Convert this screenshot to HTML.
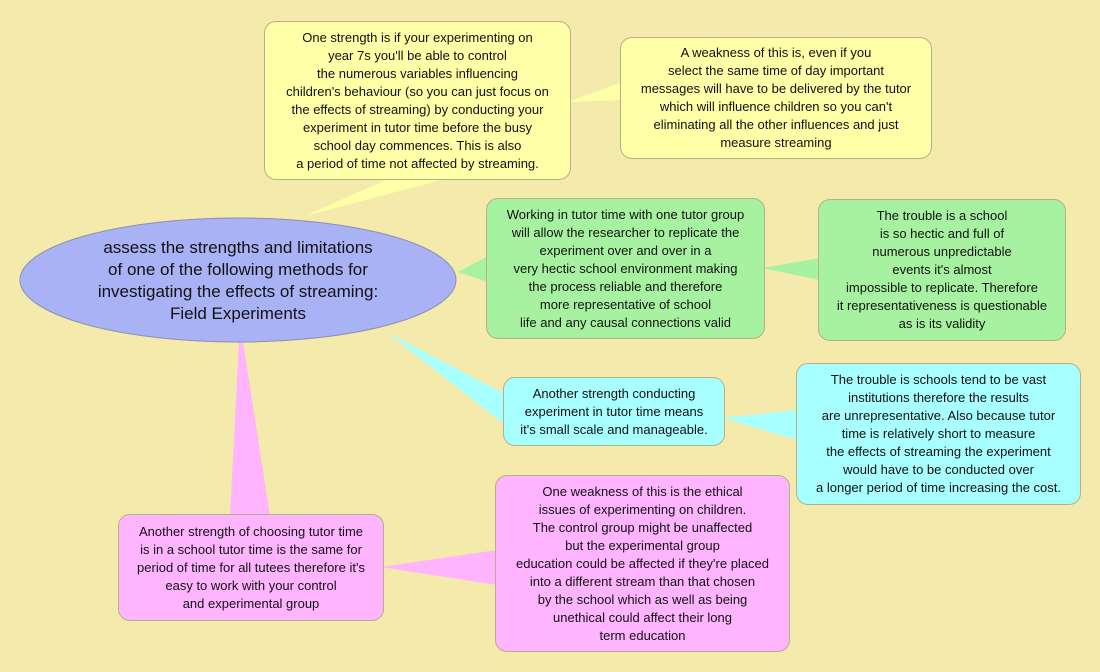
<!DOCTYPE html>
<html><head><meta charset="utf-8"><style>
body{margin:0;width:1100px;height:672px;background:#f4eaab;position:relative;overflow:hidden;font-family:"Liberation Sans",sans-serif;}
.b{position:absolute;box-sizing:border-box;border:1px solid #b5b08a;border-radius:12px;display:flex;align-items:center;justify-content:center;text-align:center;font-size:13px;line-height:18px;color:#111;}
.y{background:#ffffa8}.g{background:#a6f2a0}.c{background:#a8ffff}.p{background:#ffb4ff}
svg{position:absolute;left:0;top:0}
</style></head><body>
<svg width="1100" height="672">
<polygon points="305,216 388,179 445,179" fill="#ffffa8"/>
<polygon points="568,102 622,82 622,100" fill="#ffffa8"/>
<polygon points="458,272 488,256 488,282" fill="#a6f2a0"/>
<polygon points="762,268 820,258 820,280" fill="#a6f2a0"/>
<polygon points="388,333 505,394 505,425" fill="#a8ffff"/>
<polygon points="722,418 798,410 798,440" fill="#a8ffff"/>
<polygon points="240,322 230,516 270,516" fill="#ffb4ff"/>
<polygon points="381,567 497,550 497,585" fill="#ffb4ff"/>
<ellipse cx="238" cy="280" rx="218" ry="62" fill="#aab2f6" stroke="#8d8fae" stroke-width="1"/>
</svg>
<div style="position:absolute;left:40px;top:237px;width:396px;text-align:center;font-size:17px;line-height:22px;color:#111">assess the strengths and limitations<br>of one of the following methods for<br>investigating the effects of streaming:<br>Field Experiments</div>
<div class="b y" style="left:264px;top:21px;width:307px;height:159px">One strength is if your experimenting on<br>year 7s you'll be able to control<br>the numerous variables influencing<br>children's behaviour (so you can just focus on<br>the effects of streaming) by conducting your<br>experiment in tutor time before the busy<br>school day commences. This is also<br>a period of time not affected by streaming.</div>
<div class="b y" style="left:620px;top:37px;width:312px;height:122px">A weakness of this is, even if you<br>select the same time of day important<br>messages will have to be delivered by the tutor<br>which will influence children so you can't<br>eliminating all the other influences and just<br>measure streaming</div>
<div class="b g" style="left:486px;top:198px;width:279px;height:141px">Working in tutor time with one tutor group<br>will allow the researcher to replicate the<br>experiment over and over in a<br>very hectic school environment making<br>the process reliable and therefore<br>more representative of school<br>life and any causal connections valid</div>
<div class="b g" style="left:818px;top:199px;width:248px;height:142px">The trouble is a school<br>is so hectic and full of<br>numerous unpredictable<br>events it's almost<br>impossible to replicate. Therefore<br>it representativeness is questionable<br>as is its validity</div>
<div class="b c" style="left:503px;top:377px;width:222px;height:69px">Another strength conducting<br>experiment in tutor time means<br>it's small scale and manageable.</div>
<div class="b c" style="left:796px;top:363px;width:285px;height:142px">The trouble is schools tend to be vast<br>institutions therefore the results<br>are unrepresentative. Also because tutor<br>time is relatively short to measure<br>the effects of streaming the experiment<br>would have to be conducted over<br>a longer period of time increasing the cost.</div>
<div class="b p" style="left:118px;top:514px;width:266px;height:107px">Another strength of choosing tutor time<br>is in a school tutor time is the same for<br>period of time for all tutees therefore it's<br>easy to work with your control<br>and experimental group</div>
<div class="b p" style="left:495px;top:475px;width:295px;height:177px">One weakness of this is the ethical<br>issues of experimenting on children.<br>The control group might be unaffected<br>but the experimental group<br>education could be affected if they're placed<br>into a different stream than that chosen<br>by the school which as well as being<br>unethical could affect their long<br>term education</div>
</body></html>
